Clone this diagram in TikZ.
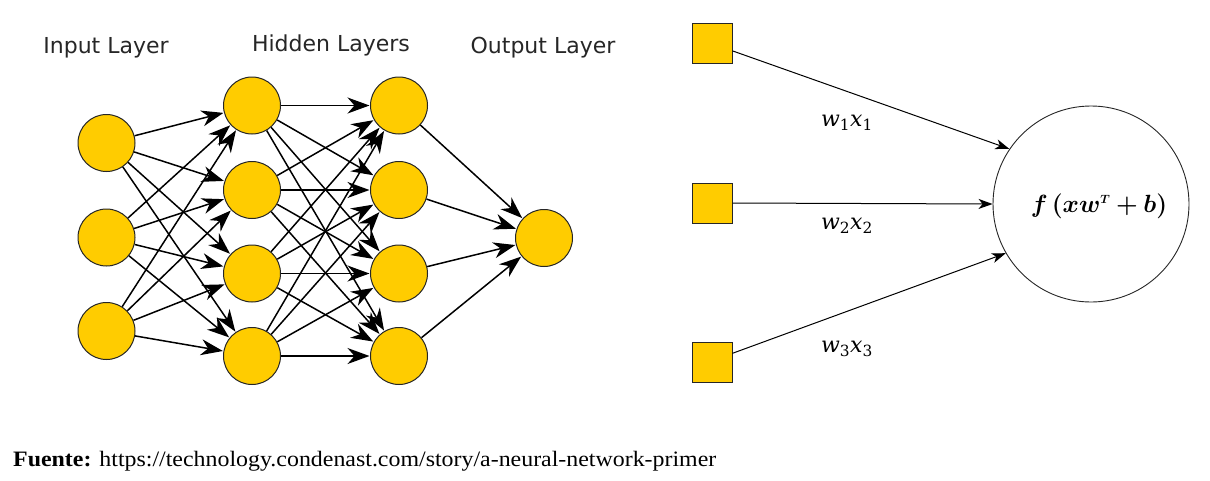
\documentclass[tikz,border=0pt]{standalone}
\usepackage{fontspec}
\usepackage{bm}
\usepackage{graphicx}
\setmainfont{Liberation Serif}
\newfontfamily\labfont{DejaVu Sans}
\newfontfamily\wfont{DejaVu Serif}
\usetikzlibrary{arrows.meta}
\definecolor{neuron}{RGB}{255,204,0}
\newcommand{\wx}[1]{{\wfont\itshape w\textsubscript{\upshape#1}x\textsubscript{\upshape#1}}}
\begin{document}
\begin{tikzpicture}[x=1pt,y=-1pt,
  neu/.style={circle,draw=black!85,line width=1pt,fill=neuron,minimum size=57pt,inner sep=0pt},
  conn/.style={line width=1.5pt,-{Stealth[length=22pt,width=16pt,inset=7pt]},shorten >=0.5pt},
  inbox/.style={rectangle,draw=black!85,line width=1pt,fill=neuron,minimum size=40pt,inner sep=0pt},
  thin/.style={line width=1pt,-{Stealth[length=14pt,width=10pt,inset=4pt]}},
  lay/.style={font=\labfont\fontsize{22}{24}\selectfont,text=black!85,anchor=base,inner sep=0pt},
  wlab/.style={font=\fontsize{22}{24}\selectfont,anchor=base,inner sep=0pt}
]
\useasboundingbox (0,0) rectangle (1210,480);
% layer labels
\node[lay] (tin) at (106,53) {Input Layer};
\node[lay] (thid) at (331,51) {Hidden Layers};
\node[lay] (tout) at (543,53) {Output Layer};
% neurons
\foreach \i/\y in {1/143,2/237.5,3/331} \node[neu] (i\i) at (106.5,\y) {};
\foreach \i/\y in {1/105.5,2/190,3/273.5,4/356} {
  \node[neu] (h\i) at (252,\y) {};
  \node[neu] (g\i) at (399,\y) {};
}
\node[neu] (o) at (544,238) {};
% connections
\foreach \a in {1,2,3} \foreach \b in {1,2,3,4} \draw[conn] (i\a) -- (h\b);
\foreach \a in {1,2,3,4} \foreach \b in {1,2,3,4} \draw[conn] (h\a) -- (g\b);
\foreach \a in {1,2,3,4} \draw[conn] (g\a) -- (o);
% right part
\node[inbox] (s1) at (712,43) {};
\node[inbox] (s2) at (712,203) {};
\node[inbox] (s3) at (712,362) {};
\node[circle,draw=black!85,line width=0.9pt,minimum size=196pt,inner sep=0pt] (f) at (1091,204) {};
\node[font=\fontsize{24}{26}\selectfont] (ft) at (1099,206) {$\bm{f\,(xw^{\scriptscriptstyle T}+b)}$};
\draw[thin] (s1.-21) -- (f.146);
\draw[thin] (s2.east) -- (f.west);
\draw[thin] (s3.23) -- (f.210);
\node[wlab] (w1) at (847,126) {\wx{1}};
\node[wlab] (w2) at (847,229) {\wx{2}};
\node[wlab] (w3) at (847,352) {\wx{3}};
% caption
\node[anchor=base west,inner sep=0pt,font=\fontsize{22}{24}\selectfont] (cap) at (13,466) {\scalebox{1.086}[1]{\textbf{Fuente:} https://technology.condenast.com/story/a-neural-network-primer}};
\end{tikzpicture}
\end{document}
